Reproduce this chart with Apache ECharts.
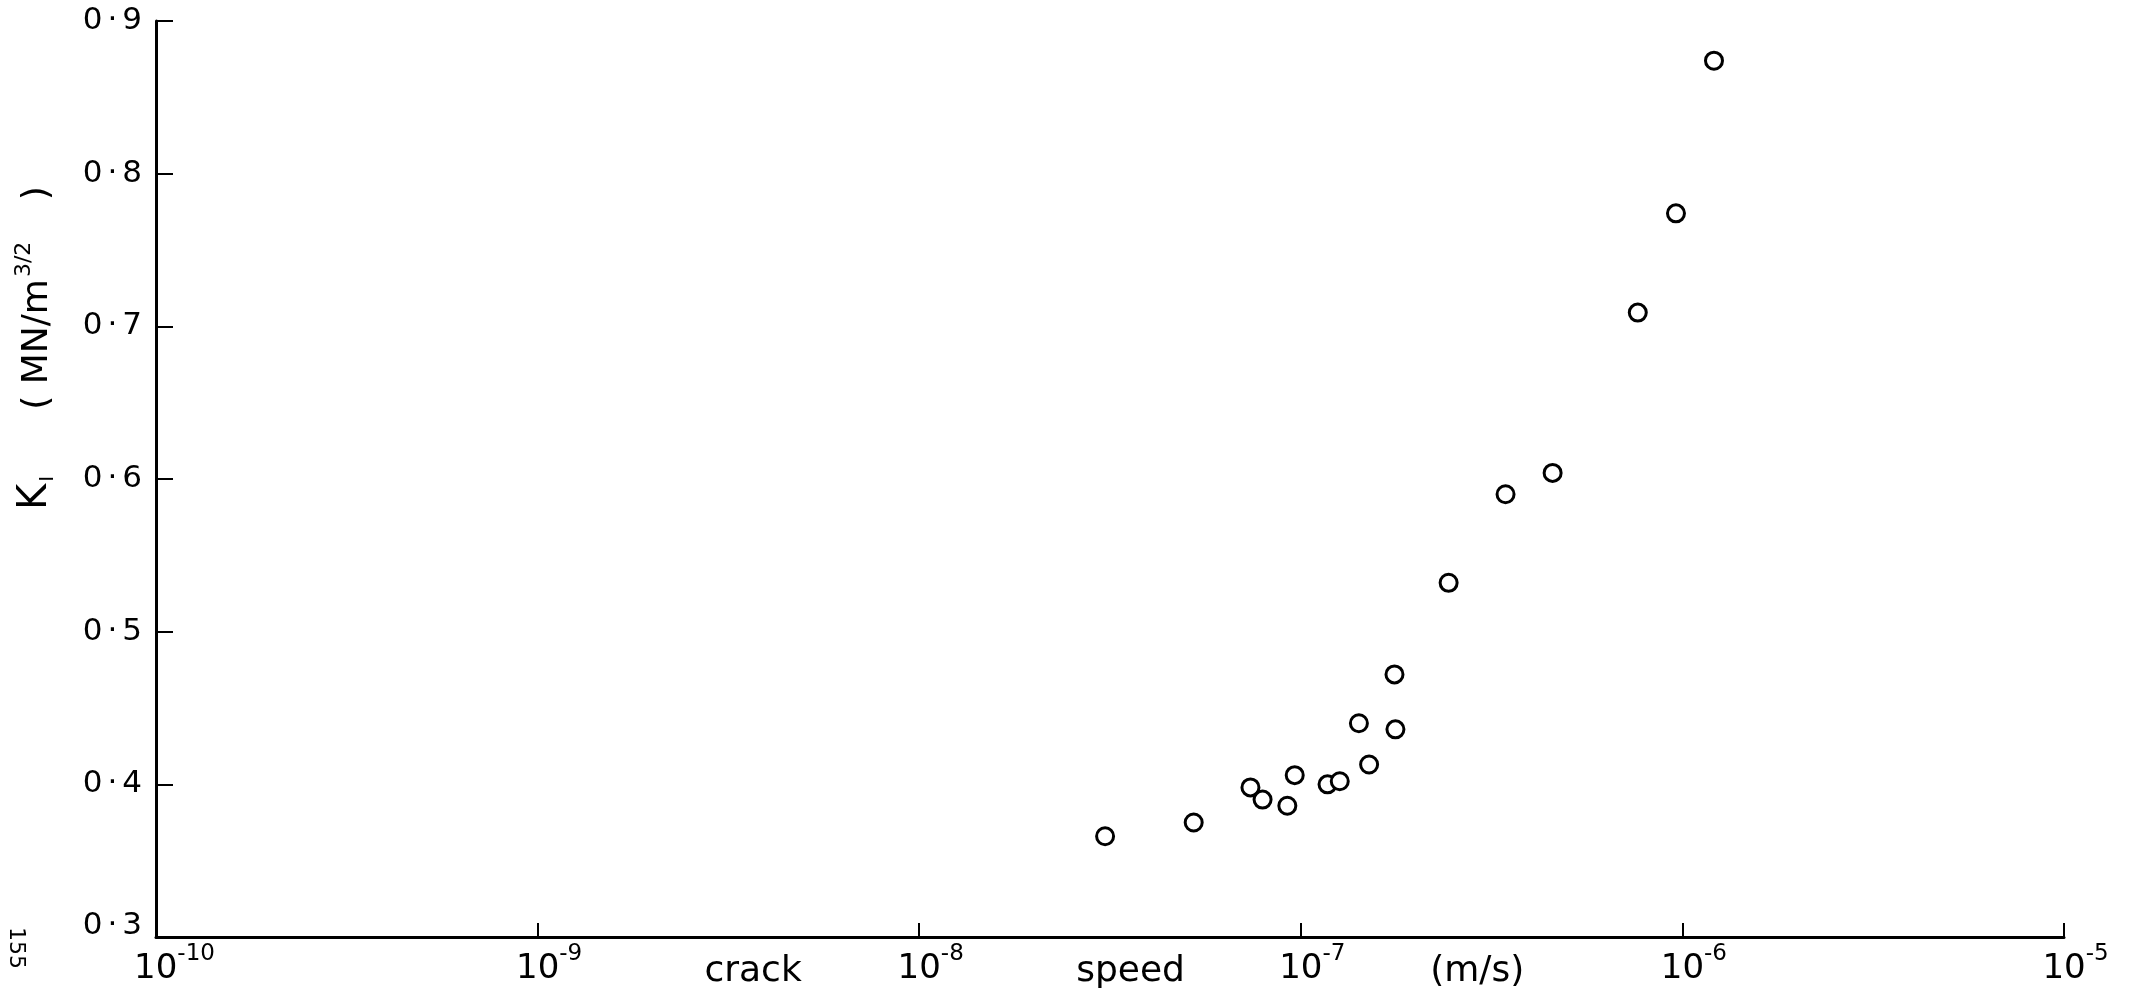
<!DOCTYPE html>
<html>
<head>
<meta charset="utf-8">
<script src="https://cdn.jsdelivr.net/npm/echarts@6/dist/echarts.min.js"></script>
<style>
  html, body { margin: 0; padding: 0; background: #fff; }
  #chart { width: 2142px; height: 1000px; }
</style>
</head>
<body>
<div id="chart"></div>
<script>
// crack speed (m/s) against K_I (MN/m^3/2)
const speeds = [3.07e-8, 5.24e-8, 7.38e-8, 7.94e-8, 9.22e-8, 9.64e-8, 1.175e-7, 1.265e-7, 1.51e-7,
  1.42e-7, 1.77e-7, 1.76e-7, 2.44e-7, 3.44e-7, 4.57e-7, 7.64e-7, 9.62e-7, 1.21e-6];
const kValues = [0.366, 0.375, 0.398, 0.390, 0.386, 0.406, 0.400, 0.402, 0.413,
  0.440, 0.436, 0.472, 0.532, 0.590, 0.604, 0.709, 0.774, 0.874];

// axis range
const xMin = 1e-10, xMax = 1e-5;
const yMin = 0.3, yMax = 0.9, yStep = 0.1;

// words written along the x axis, and the speed each one sits under
const xWords = ["crack", "speed", "(m/s)"];
const xWordAt = [3.67e-9, 3.58e-8, 2.9e-7];

const font = "DejaVu Sans";

const chart = echarts.init(document.getElementById("chart"));

let option = {
  animation: false,
  backgroundColor: "#fff",
  grid: { left: 156, right: 78, top: 21, bottom: 63, outerBoundsMode: "none" },
  xAxis: {
    type: "log",
    logBase: 10,
    min: xMin,
    max: xMax,
    axisLine: { lineStyle: { color: "#000", width: 3 } },
    axisTick: { inside: true, length: 14, lineStyle: { color: "#000", width: 2 } },
    minorTick: { show: false },
    splitLine: { show: false },
    axisLabel: {
      showMinLabel: true,
      showMaxLabel: true,
      margin: 6,
      formatter: function (v) {
        const e = String(Math.round(Math.log10(v)));
        // a blank as wide as the exponent keeps "10" centred on the tick
        return "{sp" + e.length + "|}{b|10}{e|" + e + "}";
      },
      rich: {
        sp2: { width: 23 },
        sp3: { width: 37 },
        b: { fontFamily: font, fontSize: 34, color: "#000" },
        e: { fontFamily: font, fontSize: 23, color: "#000", padding: [0, 0, 30, 0] },
      },
    },
  },
  yAxis: {
    type: "value",
    min: yMin,
    max: yMax,
    interval: yStep,
    axisLine: { show: true, lineStyle: { color: "#000", width: 3 } },
    axisTick: { show: true, inside: true, length: 17, lineStyle: { color: "#000", width: 2 } },
    splitLine: { show: false },
    axisLabel: {
      margin: 14,
      formatter: function (v) {
        const s = v.toFixed(1).split(".");
        const n = Math.abs(v - yMin) < 1e-9 ? "m" : "n";
        return "{" + n + "|" + s[0] + "}{d" + n + "|·}{" + n + "|" + s[1] + "}";
      },
      rich: {
        n: { fontFamily: font, fontSize: 31, color: "#000" },
        dn: { fontFamily: font, fontSize: 31, color: "#000", padding: [0, 5] },
        m: { fontFamily: font, fontSize: 31, color: "#000", padding: [0, 0, 22, 0] },
        dm: { fontFamily: font, fontSize: 31, color: "#000", padding: [0, 5, 22, 5] },
      },
    },
  },
  series: [
    {
      type: "scatter",
      data: speeds.map((s, i) => [s, kValues[i]]),
      symbol: "circle",
      symbolSize: 17,
      itemStyle: { color: "#fff", borderColor: "#000", borderWidth: 3, opacity: 1 },
    },
  ],
};
chart.setOption(option);

// texts that are not tick labels
const baseY = chart.convertToPixel({ yAxisIndex: 0 }, yMin);
const graphics = xWords.map((w, i) => ({
  type: "text",
  x: chart.convertToPixel({ xAxisIndex: 0 }, xWordAt[i]),
  y: baseY + 35,
  style: { text: w, fontFamily: font, fontSize: 36, fill: "#000", align: "center", verticalAlign: "middle" },
}));
graphics.push({
  type: "text",
  x: 36,
  y: 493,
  rotation: Math.PI / 2,
  style: {
    text: "{k|K}{i|I}",
    align: "center",
    verticalAlign: "middle",
    rich: {
      k: { fontFamily: font, fontSize: 40, fill: "#000" },
      i: { fontFamily: font, fontSize: 20, fill: "#000", padding: [24, 0, 0, 2] },
    },
  },
});
graphics.push({
  type: "text",
  x: 38,
  y: 298,
  rotation: Math.PI / 2,
  style: {
    text: "{t|( MN/m}{s|3/2}{t| )}",
    align: "center",
    verticalAlign: "middle",
    rich: {
      t: { fontFamily: font, fontSize: 36, fill: "#000" },
      s: { fontFamily: font, fontSize: 22, fill: "#000", padding: [0, 30, 28, 2] },
    },
  },
});
graphics.push({
  type: "text",
  x: 16,
  y: 948,
  rotation: -Math.PI / 2,
  style: { text: "155", fontFamily: font, fontSize: 22, fill: "#000", align: "center", verticalAlign: "middle" },
});
chart.setOption({ graphic: graphics });
</script>
</body>
</html>
